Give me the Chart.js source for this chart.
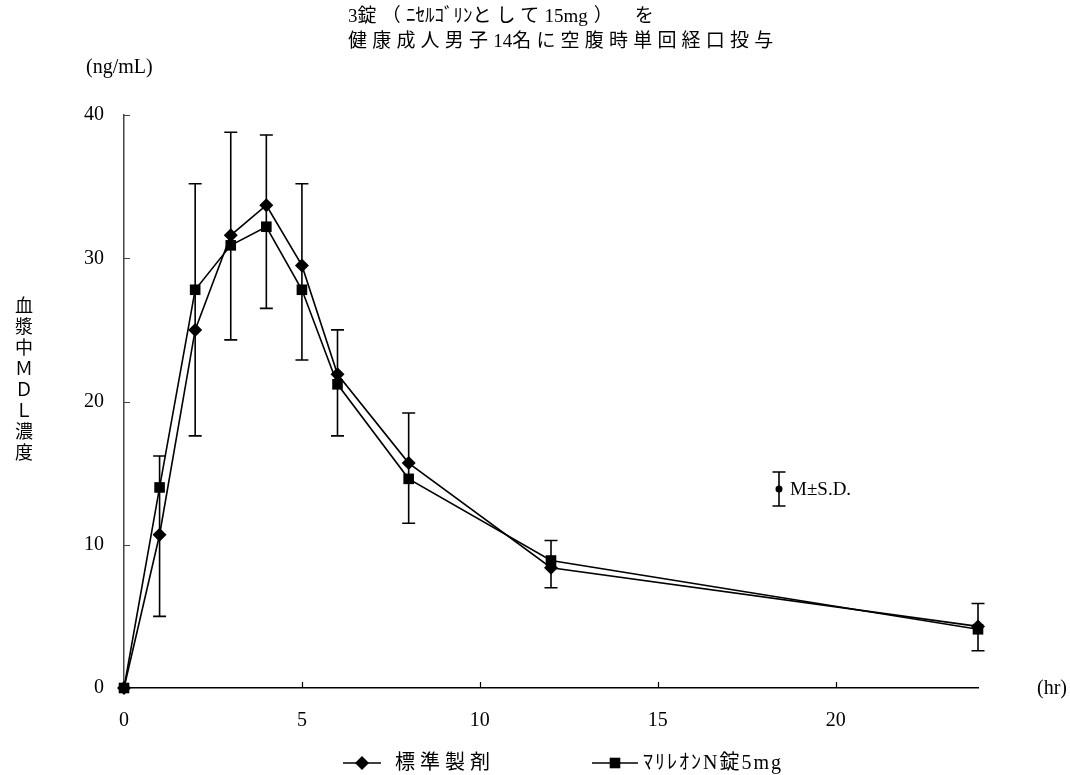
<!DOCTYPE html>
<html>
<head>
<meta charset="utf-8">
<script src="https://cdn.jsdelivr.net/npm/chart.js@4.4.1/dist/chart.umd.min.js"></script>
<style>
  body { margin: 0; background: #fff; }
  #wrap { position: relative; width: 1070px; height: 775px; }
  #chart { position: absolute; left: 0; top: 0; }
  .txt { position: absolute; font-family: "Liberation Serif", "Noto Sans CJK JP", serif; color: #000; white-space: nowrap; }
  #title { left: 348px; top: 3px; font-size: 19px; line-height: 25px; }
  #title .sp { letter-spacing: 5.2px; }
  #title .paren { margin-left: 6px; letter-spacing: 22px; }
  #unitY { left: 86px; top: 55px; font-size: 20px; }
  #unitX { left: 1037px; top: 676px; font-size: 20px; }
  #ylabel { left: 12px; top: 296px; font-size: 18px; line-height: 20px; writing-mode: vertical-rl; text-orientation: upright; letter-spacing: 3px; }
</style>
</head>
<body>
<div id="wrap">
  <canvas id="chart" width="1070" height="775"></canvas>
  <div class="txt" id="title">3<span class="sp">錠（</span>ﾆｾﾙｺﾞﾘﾝ<span class="sp">として</span>15mg<span class="paren">）</span>を<br><span class="sp">健康成人男子</span>14<span class="sp">名に空腹時単回経口投与</span></div>
  <div class="txt" id="unitY">(ng/mL)</div>
  <div class="txt" id="unitX">(hr)</div>
  <div class="txt" id="ylabel">血漿中ＭＤＬ濃度</div>
</div>
<script>
// sampling times (hr) and plasma MDL concentrations (ng/mL)
const times = [0, 1, 2, 3, 4, 5, 6, 8, 12, 24];
const standardMean = [0, 10.7, 25.0, 31.6, 33.7, 29.5, 21.9, 15.7, 8.4, 4.3];
const marileonMean = [0, 14.0, 27.8, 30.9, 32.2, 27.8, 21.2, 14.6, 8.9, 4.1];
// M +/- S.D. bars
const sdUpper = [null, 16.2, 35.2, 38.8, 38.6, 35.2, 25.0, 19.2, 10.3, 5.9];
const sdLower = [null, 5.0, 17.6, 24.3, 26.5, 22.9, 17.6, 11.5, 7.0, 2.6];

const xTicks = [0, 5, 10, 15, 20];
const yTicks = [0, 10, 20, 30, 40];
const seriesNames = ['標準製剤', 'ﾏﾘﾚｵﾝN錠5mg'];

const tickFont = { family: 'Liberation Serif', size: 20 };

// error bars drawn under the markers
const errorBars = {
  id: 'errorBars',
  beforeDatasetsDraw(chart) {
    const { ctx, scales: { x, y } } = chart;
    ctx.save();
    ctx.strokeStyle = '#000';
    ctx.lineWidth = 1.6;
    times.forEach((t, i) => {
      if (sdUpper[i] == null) return;
      const px = x.getPixelForValue(t);
      const top = y.getPixelForValue(sdUpper[i]);
      const bot = y.getPixelForValue(sdLower[i]);
      ctx.beginPath();
      ctx.moveTo(px, top); ctx.lineTo(px, bot);
      ctx.moveTo(px - 6.5, top); ctx.lineTo(px + 6.5, top);
      ctx.moveTo(px - 6.5, bot); ctx.lineTo(px + 6.5, bot);
      ctx.stroke();
    });
    ctx.restore();
  }
};

// tick marks point into the plot area
const innerTicks = {
  id: 'innerTicks',
  beforeDatasetsDraw(chart) {
    const { ctx, chartArea: a, scales: { x, y } } = chart;
    ctx.save();
    ctx.lineWidth = 1.2;
    ctx.strokeStyle = '#000';
    ctx.beginPath();
    x.ticks.forEach(t => {
      if (t.value === 0) return;
      const px = Math.round(x.getPixelForValue(t.value)) + 0.5;
      ctx.moveTo(px, a.bottom); ctx.lineTo(px, a.bottom - 6);
    });
    ctx.stroke();
    ctx.strokeStyle = '#444';
    ctx.beginPath();
    y.ticks.forEach(t => {
      if (t.value === 0) return;
      const py = Math.round(y.getPixelForValue(t.value)) + 0.5;
      ctx.moveTo(a.left, py); ctx.lineTo(a.left + 6, py);
    });
    ctx.stroke();
    ctx.restore();
  }
};

// bottom legend and the M±S.D. key
const keyLegend = {
  id: 'keyLegend',
  afterDraw(chart) {
    const ctx = chart.ctx;
    ctx.save();
    ctx.fillStyle = '#000';
    ctx.strokeStyle = '#000';
    ctx.textBaseline = 'middle';

    const entries = [
      { x0: 343, x1: 381, mx: 362, tx: 395, spacing: '5px' },
      { x0: 592, x1: 638, mx: 615, tx: 643, spacing: '2px' }
    ];
    entries.forEach((e, i) => {
      const ds = chart.data.datasets[i];
      const ly = 763;
      ctx.lineWidth = 1.6;
      ctx.beginPath();
      ctx.moveTo(e.x0, ly); ctx.lineTo(e.x1, ly);
      ctx.stroke();
      Chart.helpers.drawPoint(ctx, { pointStyle: ds.pointStyle, radius: ds.pointRadius, rotation: 0, borderWidth: 0 }, e.mx, ly);
      ctx.font = '20px "Liberation Serif", "Noto Sans CJK JP"';
      ctx.letterSpacing = e.spacing;
      ctx.fillText(seriesNames[i], e.tx, ly + 1);
    });

    // M±S.D. symbol
    const kx = 779, kt = 472, kb = 506, km = 489;
    ctx.letterSpacing = '0px';
    ctx.lineWidth = 1.6;
    ctx.beginPath();
    ctx.moveTo(kx, kt); ctx.lineTo(kx, kb);
    ctx.moveTo(kx - 6.5, kt); ctx.lineTo(kx + 6.5, kt);
    ctx.moveTo(kx - 6.5, kb); ctx.lineTo(kx + 6.5, kb);
    ctx.stroke();
    ctx.beginPath();
    ctx.arc(kx, km, 3.5, 0, Math.PI * 2);
    ctx.fill();
    ctx.font = '19px "Liberation Serif"';
    ctx.fillText('M±S.D.', 790, km + 1);
    ctx.restore();
  }
};

const toPoints = vals => times.map((t, i) => ({ x: t, y: vals[i] }));

new Chart(document.getElementById('chart'), {
  type: 'line',
  data: {
    datasets: [
      {
        label: seriesNames[0],
        data: toPoints(standardMean),
        borderColor: '#000',
        borderWidth: 1.6,
        pointStyle: 'rectRot',
        pointRadius: 7,
        pointBackgroundColor: '#000',
        pointBorderWidth: 0,
        tension: 0,
        clip: false
      },
      {
        label: seriesNames[1],
        data: toPoints(marileonMean),
        borderColor: '#000',
        borderWidth: 1.6,
        pointStyle: 'rect',
        pointRadius: 7.5,
        pointBackgroundColor: '#000',
        pointBorderWidth: 0,
        tension: 0,
        clip: false
      }
    ]
  },
  options: {
    responsive: false,
    animation: false,
    layout: { padding: { top: 115, right: 92, left: 0, bottom: 0 } },
    plugins: { legend: { display: false }, tooltip: { enabled: false } },
    scales: {
      x: {
        type: 'linear',
        min: 0,
        max: 24,
        afterBuildTicks: s => { s.ticks = xTicks.map(v => ({ value: v })); },
        afterFit: s => { s.height = 87; },
        grid: { display: false, drawTicks: false },
        border: { display: true, color: '#000', width: 1.5 },
        ticks: { font: tickFont, color: '#000', padding: 21, maxRotation: 0 }
      },
      y: {
        min: 0,
        max: 40,
        afterBuildTicks: s => { s.ticks = yTicks.map(v => ({ value: v })); },
        afterFit: s => { s.width = 124; },
        grid: { display: false, drawTicks: false },
        border: { display: true, color: '#444', width: 1.5 },
        ticks: { font: tickFont, color: '#000', padding: 20 }
      }
    }
  },
  plugins: [errorBars, innerTicks, keyLegend]
});
</script>
</body>
</html>
